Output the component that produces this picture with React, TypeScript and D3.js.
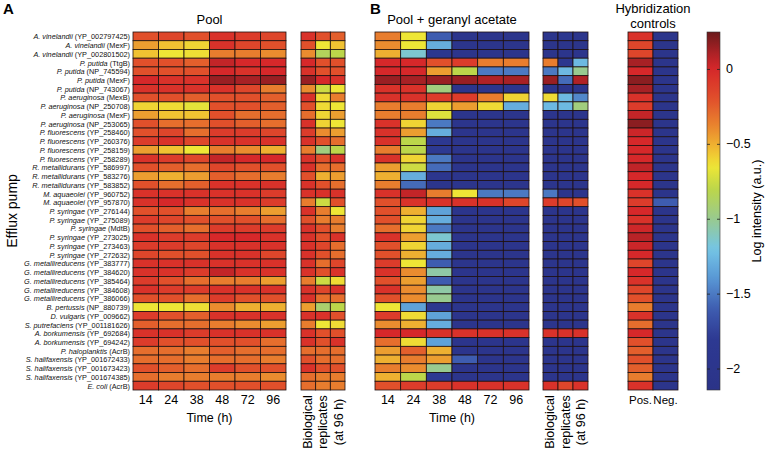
import React from "react";
import * as d3 from "d3";

// ---------- data ----------
const species = [
  "A. vinelandii", "A. vinelandii", "A. vinelandii", "P. putida", "P. putida", "P. putida", "P. putida",
  "P. aeruginosa", "P. aeruginosa", "P. aeruginosa", "P. aeruginosa", "P. fluorescens", "P. fluorescens",
  "P. fluorescens", "P. fluorescens", "R. metallidurans", "R. metallidurans", "R. metallidurans",
  "M. aquaeolei", "M. aquaeolei", "P. syringae", "P. syringae", "P. syringae", "P. syringae", "P. syringae",
  "P. syringae", "G. metallireducens", "G. metallireducens", "G. metallireducens", "G. metallireducens",
  "G. metallireducens", "B. pertussis", "D. vulgaris", "S. putrefaciens", "A. borkumensis", "A. borkumensis",
  "P. haloplanktis", "S. halifaxensis", "S. halifaxensis", "S. halifaxensis", "E. coli",
];
const geneIds = [
  "YP_002797425", "MexF", "YP_002801502", "TtgB", "NP_745594", "MexF", "NP_743067",
  "MexB", "NP_250708", "MexF", "NP_253065", "YP_258460", "YP_260376",
  "YP_258159", "YP_258289", "YP_586997", "YP_583276", "YP_583852",
  "YP_960752", "YP_957870", "YP_276144", "YP_275089", "MdtB", "YP_273025", "YP_273463",
  "YP_272632", "YP_383777", "YP_384620", "YP_385464", "YP_384608",
  "YP_386066", "NP_880739", "YP_009662", "YP_001181626", "YP_692684", "YP_694242",
  "AcrB", "YP_001672433", "YP_001673423", "YP_001674385", "AcrB",
];
const timeLabels = ["14", "24", "38", "48", "72", "96"];
const replicateLabels = ["r1", "r2", "r3"];
const controlLabels = ["Pos.", "Neg."];

const poolA = [
  [-0.2, -0.15, -0.2, -0.05, -0.1, -0.15],
  [-0.45, -0.55, -0.6, -0.05, -0.15, -0.2],
  [-0.55, -0.65, -0.63, -0.35, -0.35, -0.4],
  [-0.2, -0.2, -0.25, 0.05, 0, 0],
  [-0.2, -0.2, -0.2, 0, -0.05, 0],
  [0, -0.05, -0.05, 0.15, 0.12, 0.15],
  [-0.05, -0.05, -0.05, -0.05, -0.15, -0.35],
  [-0.2, -0.2, -0.25, -0.2, -0.2, -0.25],
  [-0.6, -0.62, -0.68, -0.2, -0.2, -0.25],
  [-0.45, -0.55, -0.55, -0.2, -0.3, -0.3],
  [-0.2, -0.3, -0.3, -0.2, -0.25, -0.3],
  [-0.2, -0.15, -0.3, -0.1, -0.1, -0.15],
  [-0.1, -0.05, -0.15, -0.05, -0.05, -0.05],
  [-0.45, -0.55, -0.65, -0.35, -0.4, -0.5],
  [-0.05, -0.1, -0.15, 0.05, 0, 0],
  [-0.2, -0.25, -0.3, -0.15, -0.2, -0.2],
  [-0.45, -0.5, -0.45, -0.25, -0.3, -0.35],
  [-0.2, -0.3, -0.25, -0.05, -0.05, -0.05],
  [-0.05, -0.05, -0.05, -0.05, -0.05, -0.1],
  [-0.05, 0, -0.05, -0.05, -0.05, -0.1],
  [-0.2, -0.2, -0.35, -0.3, -0.35, -0.45],
  [-0.1, -0.15, -0.2, -0.2, -0.2, -0.3],
  [-0.2, -0.25, -0.3, -0.1, -0.1, -0.1],
  [-0.05, -0.1, -0.1, 0, 0, -0.05],
  [-0.1, -0.1, -0.15, -0.05, -0.05, -0.05],
  [-0.15, -0.2, -0.2, -0.05, -0.05, -0.15],
  [-0.05, -0.05, -0.05, -0.05, -0.05, -0.05],
  [-0.05, -0.05, -0.1, 0.05, -0.05, -0.05],
  [-0.1, -0.2, -0.3, -0.35, -0.35, -0.45],
  [-0.05, -0.1, -0.1, -0.05, -0.05, -0.05],
  [-0.2, -0.2, -0.3, -0.1, -0.2, -0.2],
  [-0.65, -0.65, -0.63, -0.4, -0.5, -0.5],
  [-0.1, -0.2, -0.25, -0.05, -0.05, -0.05],
  [-0.25, -0.3, -0.3, -0.35, -0.4, -0.45],
  [-0.05, -0.05, -0.1, -0.05, -0.05, -0.05],
  [-0.1, -0.2, -0.2, -0.2, -0.2, -0.3],
  [-0.3, -0.3, -0.35, -0.25, -0.3, -0.3],
  [-0.3, -0.3, -0.35, -0.3, -0.3, -0.35],
  [-0.2, -0.25, -0.3, -0.1, -0.2, -0.2],
  [-0.3, -0.35, -0.35, -0.35, -0.35, -0.4],
  [-0.1, -0.15, -0.2, -0.2, -0.2, -0.2],
];

const replicatesA = [
  [-0.05, -0.2, -0.25], [-0.2, -0.65, -0.55], [-0.4, -0.85, -0.8], [0, -0.2, -0.2],
  [-0.05, -0.2, -0.2], [0.15, 0, -0.05], [-0.4, -0.75, -0.65], [-0.05, -0.62, -0.35],
  [-0.2, -0.62, -0.65], [-0.3, -0.6, -0.45], [-0.05, -0.6, -0.65], [-0.1, -0.4, -0.45],
  [-0.05, -0.2, -0.3], [-0.35, -0.95, -0.8], [-0.05, -0.2, -0.05], [-0.05, -0.3, -0.3],
  [-0.2, -0.5, -0.45], [-0.05, -0.2, -0.3], [-0.05, -0.05, -0.05], [-0.35, -0.75, -0.2],
  [-0.05, -0.35, -0.65], [-0.2, -0.35, -0.35], [-0.05, -0.2, -0.35], [-0.05, -0.2, -0.05],
  [-0.05, -0.15, -0.3], [-0.05, -0.2, -0.3], [-0.05, -0.3, -0.15], [-0.05, -0.2, -0.05],
  [-0.35, -0.75, -0.62], [-0.05, -0.15, -0.05], [-0.05, -0.3, -0.3], [-0.45, -0.9, -0.8],
  [-0.05, -0.05, -0.2], [-0.35, -0.65, -0.62], [-0.05, -0.2, -0.2], [-0.05, -0.2, -0.05],
  [-0.3, -0.3, -0.3], [-0.2, -0.3, -0.3], [-0.05, -0.2, -0.2], [-0.3, -0.35, -0.35],
  [-0.3, -0.35, -0.35],
];

const poolB = [
  [-0.35, -0.65, -1.6, -2.0, -2.0, -2.0],
  [-0.4, -0.65, -1.3, -2.0, -2.0, -2.0],
  [-0.5, -1.15, -1.9, -2.0, -2.0, -2.0],
  [0, 0, -0.2, -0.1, -0.35, -0.35],
  [0, 0, -0.45, -0.8, -1.5, -1.5],
  [0.15, 0.12, 0.15, 0.15, 0.1, 0.12],
  [-0.05, -0.05, -0.95, -2.0, -2.0, -2.0],
  [-0.05, -0.05, -0.1, -0.1, -0.35, -0.6],
  [-0.35, -0.35, -0.6, -0.45, -0.62, -1.3],
  [-0.35, -0.35, -0.7, -2.0, -2.0, -2.0],
  [-0.05, -0.6, -1.5, -2.0, -2.0, -2.0],
  [-0.05, -0.45, -1.3, -2.0, -2.0, -2.0],
  [-0.05, -0.8, -1.85, -2.0, -2.0, -2.0],
  [-0.35, -0.8, -1.8, -2.0, -2.0, -2.0],
  [-0.05, -0.6, -1.5, -2.0, -2.0, -2.0],
  [-0.45, -0.75, -1.55, -2.0, -2.0, -2.0],
  [-0.5, -1.3, -1.95, -2.0, -2.0, -2.0],
  [-0.35, -1.55, -2.0, -2.0, -2.0, -2.0],
  [-0.05, 0.05, -0.35, -0.65, -1.5, -1.5],
  [-0.2, -0.05, -0.05, -0.05, -0.05, -0.15],
  [-0.2, -0.5, -1.35, -2.0, -2.0, -2.0],
  [-0.2, -0.6, -1.3, -2.0, -2.0, -2.0],
  [-0.3, -0.6, -1.5, -2.0, -2.0, -2.0],
  [-0.05, -0.45, -1.15, -2.0, -2.0, -2.0],
  [-0.2, -0.6, -1.3, -2.0, -2.0, -2.0],
  [-0.2, -0.5, -1.3, -2.0, -2.0, -2.0],
  [-0.1, -0.65, -1.6, -2.0, -2.0, -2.0],
  [-0.05, -0.4, -1.05, -2.0, -2.0, -2.0],
  [-0.2, -0.45, -1.6, -2.0, -2.0, -2.0],
  [-0.05, -0.4, -1.05, -2.0, -2.0, -2.0],
  [-0.2, -0.4, -1.0, -2.0, -2.0, -2.0],
  [-0.65, -1.35, -1.9, -2.0, -2.0, -2.0],
  [-0.1, -0.62, -1.35, -2.0, -2.0, -2.0],
  [-0.4, -0.5, -1.3, -2.0, -2.0, -2.0],
  [0, 0, -0.05, -0.05, -0.05, -0.05],
  [-0.3, -0.62, -1.35, -2.0, -2.0, -2.0],
  [-0.45, -0.25, -0.5, -2.0, -2.0, -2.0],
  [-0.5, -0.35, -0.45, -1.6, -2.0, -2.0],
  [-0.35, -0.4, -1.0, -2.0, -2.0, -2.0],
  [-0.5, -0.8, -1.8, -2.0, -2.0, -2.0],
  [-0.2, -0.1, -0.1, -0.05, -0.05, -0.05],
];

const replicatesB = [
  [-2.0, -1.9, -2.0], [-2.0, -2.0, -2.0], [-2.0, -2.0, -2.0], [-0.35, -1.9, -1.25],
  [-1.5, -1.25, -1.0], [0.15, -1.55, 0.1], [-2.0, -2.0, -2.0], [-0.62, -1.25, -1.45],
  [-1.25, -1.25, -0.95], [-2.0, -2.0, -2.0], [-2.0, -2.0, -2.0], [-2.0, -2.0, -2.0],
  [-2.0, -2.0, -2.0], [-2.0, -2.0, -2.0], [-2.0, -2.0, -2.0], [-2.0, -2.0, -2.0],
  [-2.0, -2.0, -2.0], [-2.0, -2.0, -2.0], [-1.5, -2.0, -2.0], [-0.1, -0.15, -0.2],
  [-2.0, -2.0, -2.0], [-2.0, -2.0, -2.0], [-2.0, -2.0, -2.0], [-2.0, -2.0, -2.0],
  [-2.0, -2.0, -2.0], [-2.0, -2.0, -2.0], [-2.0, -2.0, -2.0], [-2.0, -2.0, -2.0],
  [-2.0, -2.0, -2.0], [-2.0, -2.0, -2.0], [-2.0, -2.0, -2.0], [-2.0, -2.0, -2.0],
  [-2.0, -2.0, -2.0], [-2.0, -2.0, -2.0], [-0.05, -0.05, -0.05], [-2.0, -2.0, -2.0],
  [-2.0, -2.0, -2.0], [-2.0, -2.0, -2.0], [-2.0, -2.0, -2.0], [-2.0, -2.0, -2.0],
  [-0.05, -0.15, -0.05],
];

const controlPos = [
  -0.05, -0.15, -0.15, 0.12, 0.0, 0.18, 0.12, -0.05, -0.1, 0.05, 0.18, 0.03, 0.0, 0.0, 0.0,
  0.06, 0.0, 0.0, -0.05, -0.1, 0.0, -0.05, 0.02, 0.08, 0.03, 0.0, -0.15, 0.0, -0.05, -0.15,
  -0.2, -0.35, -0.05, -0.3, 0.0, -0.2, -0.25, -0.2, -0.25, -0.35, -0.05,
];
const controlNeg = [
  -2.05, -2.05, -2.05, -2.05, -2.05, -2.05, -2.05, -2.05, -2.05, -2.05, -2.05, -2.05, -2.05, -2.05,
  -2.05, -2.05, -2.05, -2.05, -2.05, -1.6, -2.05, -2.05, -2.05, -2.05, -2.05, -2.05, -2.05, -2.05,
  -2.05, -2.05, -2.05, -2.05, -2.05, -2.05, -2.05, -2.05, -2.05, -2.05, -2.05, -2.05, -2.05,
];

const colorbarTicks = [0, -0.5, -1, -1.5, -2];
const cmapValues = [0.25, 0.1, 0.0, -0.2, -0.4, -0.55, -0.65, -0.8, -1.0, -1.2, -1.4, -1.6, -1.8, -2.14];
const cmapColors = [
  "#6b1a1c", "#b02226", "#d6282a", "#e1502b", "#ea8c2f", "#f0c232", "#eee636", "#bcd64a",
  "#98ca90", "#74c5e6", "#5896d4", "#3e5cb0", "#2d3992", "#2b3388",
];

// ---------- component ----------
const FONT = "'Liberation Sans', Arial, Helvetica, sans-serif";

export default function App() {
  const W = 769;
  const H = 450;
  const top = 32;
  const bottom = 390;
  const color = d3.scaleLinear<string>().domain(cmapValues).range(cmapColors).interpolate(d3.interpolateRgb).clamp(true);
  const rowIdx = d3.range(species.length);
  const y = d3.scaleBand<number>().domain(rowIdx).range([top, bottom]).padding(0);

  const panels = [
    { key: "A", data: poolA, cols: timeLabels, x0: 133, x1: 286, showTicks: true, tickSize: 12.5 },
    { key: "RA", data: replicatesA, cols: replicateLabels, x0: 301, x1: 345, showTicks: false, tickSize: 12.5 },
    { key: "B", data: poolB, cols: timeLabels, x0: 375, x1: 529, showTicks: true, tickSize: 12.5 },
    { key: "RB", data: replicatesB, cols: replicateLabels, x0: 543, x1: 588, showTicks: false, tickSize: 12.5 },
    {
      key: "C",
      data: controlPos.map((p, i) => [p, controlNeg[i]]),
      cols: controlLabels,
      x0: 628,
      x1: 678,
      showTicks: true,
      tickSize: 11.5,
    },
  ];

  const cbX = 707;
  const cbW = 13;
  const cbScale = d3.scaleLinear().domain([cmapValues[0], cmapValues[cmapValues.length - 1]]).range([top, bottom]);
  const gradStops = d3.range(0, 1.0001, 0.02).map((t) => {
    const v = cmapValues[0] + t * (cmapValues[cmapValues.length - 1] - cmapValues[0]);
    return { offset: t, c: color(v) };
  });

  return (
    <svg width={W} height={H} style={{ position: "absolute", left: 0, top: 0, background: "#fff" }} fontFamily={FONT}>
      <defs>
        <linearGradient id="cbgrad" x1="0" y1="0" x2="0" y2="1">
          {gradStops.map((s, i) => (
            <stop key={i} offset={s.offset} stopColor={s.c} />
          ))}
        </linearGradient>
      </defs>

      {/* panel letters and titles */}
      <text x={3} y={14} fontSize={15} fontWeight="bold">A</text>
      <text x={370} y={14} fontSize={15} fontWeight="bold">B</text>
      <text x={209.5} y={24} fontSize={13} textAnchor="middle">Pool</text>
      <text x={452} y={24} fontSize={13} textAnchor="middle">Pool + geranyl acetate</text>
      <text x={653} y={13} fontSize={13} textAnchor="middle">Hybridization</text>
      <text x={653} y={28} fontSize={13} textAnchor="middle">controls</text>

      {/* row labels */}
      {rowIdx.map((i) => (
        <text key={i} x={130} y={(y(i) as number) + y.bandwidth() / 2} fontSize={7.3} textAnchor="end" dominantBaseline="central" fill="#111">
          <tspan fontStyle="italic">{species[i]}</tspan>
          <tspan> ({geneIds[i]})</tspan>
        </text>
      ))}
      <text transform={`translate(17,211) rotate(-90)`} fontSize={14} textAnchor="middle">Efflux pump</text>

      {/* heatmap panels */}
      {panels.map((p) => {
        const x = d3.scaleBand<string>().domain(p.cols).range([p.x0, p.x1]);
        return (
          <g key={p.key}>
            {p.data.map((row, i) =>
              row.map((v, j) => (
                <rect
                  key={`${i}-${j}`}
                  x={x(p.cols[j])}
                  y={y(i)}
                  width={x.bandwidth()}
                  height={y.bandwidth()}
                  fill={color(v)}
                  stroke="#1e1010"
                  strokeWidth={0.8}
                />
              ))
            )}
            {p.showTicks &&
              p.cols.map((c) => (
                <text key={c} x={(x(c) as number) + x.bandwidth() / 2} y={404} fontSize={p.tickSize} textAnchor="middle">
                  {c}
                </text>
              ))}
          </g>
        );
      })}

      <text x={209.5} y={422} fontSize={12.5} textAnchor="middle">Time (h)</text>
      <text x={452} y={422} fontSize={12.5} textAnchor="middle">Time (h)</text>

      {/* replicate axis labels */}
      {[323, 565.5].map((cx) =>
        ["Biological", "replicates", "(at 96 h)"].map((t, k) => (
          <text
            key={`${cx}-${k}`}
            transform={`translate(${cx + (k - 1) * 15.5},422) rotate(-90)`}
            fontSize={12.5}
            textAnchor="middle"
            dominantBaseline="central"
          >
            {t}
          </text>
        ))
      )}

      {/* colorbar */}
      <rect x={cbX} y={top} width={cbW} height={bottom - top} fill="url(#cbgrad)" stroke="#333" strokeWidth={0.6} />
      {colorbarTicks.map((t) => (
        <g key={t}>
          <line x1={cbX} x2={cbX + 3} y1={cbScale(t)} y2={cbScale(t)} stroke="#222" strokeWidth={0.8} />
          <line x1={cbX + cbW - 3} x2={cbX + cbW} y1={cbScale(t)} y2={cbScale(t)} stroke="#222" strokeWidth={0.8} />
          <text x={cbX + cbW + 6} y={cbScale(t)} fontSize={12.5} dominantBaseline="central">
            {t === 0 ? "0" : `\u2212${Math.abs(t)}`}
          </text>
        </g>
      ))}
      <text transform={`translate(757,211) rotate(-90)`} fontSize={12.5} textAnchor="middle" dominantBaseline="central">
        Log intensity (a.u.)
      </text>
    </svg>
  );
}
